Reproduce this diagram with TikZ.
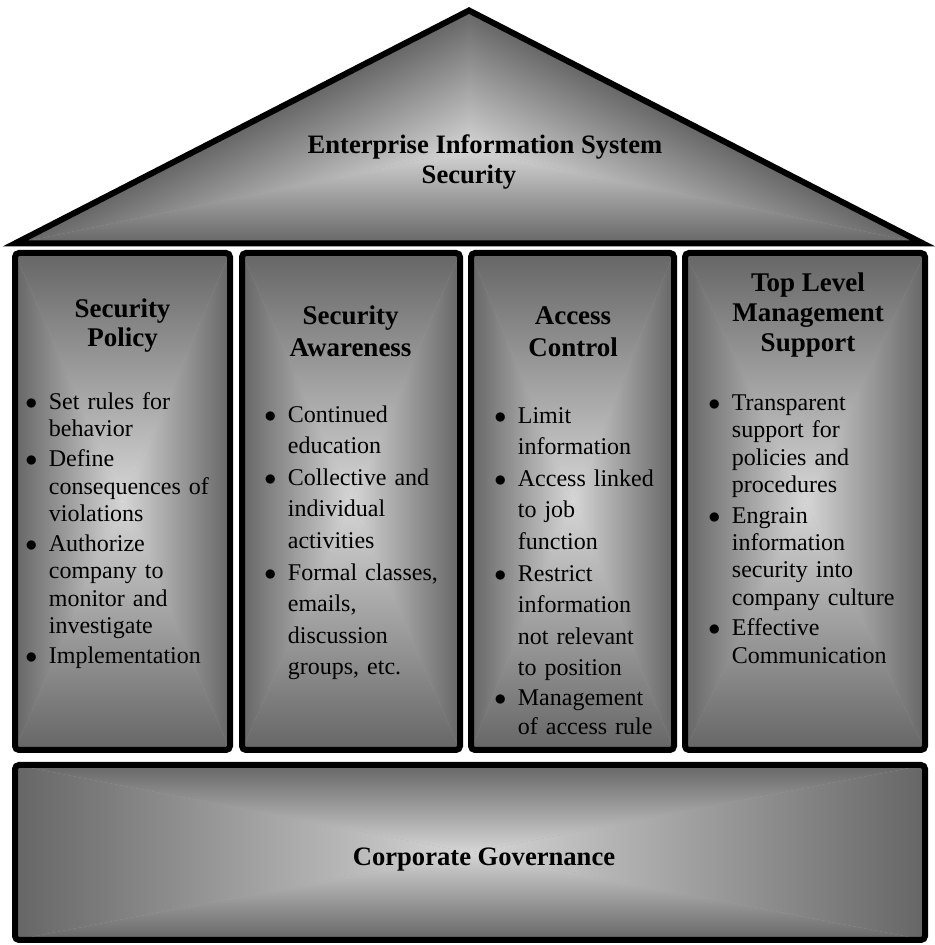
\documentclass[tikz,border=0pt]{standalone}
\usepackage{fontspec}
\setmainfont{Liberation Serif}
\usepackage{enumitem}
\setlist[itemize]{label=$\bullet$, leftmargin=11.75pt, labelwidth=11.75pt, labelsep=0pt, align=left, topsep=0pt, partopsep=0pt, parsep=0pt, itemsep=0pt}

\definecolor{borde}{gray}{0.4}
\definecolor{centro}{gray}{0.84}
\definecolor{fondo}{gray}{0.66}

\tikzset{
  pilar/.style={line width=3pt, rounded corners=2pt},
  titulo/.style={font=\bfseries\fontsize{13.5}{15}\selectfont, align=center, anchor=base, inner sep=0pt},
  lista/.style={font=\fontsize{12}{13.7}\selectfont, text width=110pt, align=left, anchor=base west, inner sep=0pt}
}

% degradado rectangular hacia el centro
\newcommand{\degradado}[4]{%
  \coordinate (m) at ({(#1+#3)/2},{(#2+#4)/2});
  \fill[fondo] (#1,#2) rectangle (#3,#4);
  \shade[bottom color=borde, top color=centro] (#1,#2) -- (#3,#2) -- (m) -- cycle;
  \shade[top color=borde, bottom color=centro] (#1,#4) -- (#3,#4) -- (m) -- cycle;
  \shade[left color=borde, right color=centro] (#1,#2) -- (#1,#4) -- (m) -- cycle;
  \shade[right color=borde, left color=centro] (#3,#2) -- (#3,#4) -- (m) -- cycle;
}

\begin{document}
\begin{tikzpicture}[x=0.5pt, y=0.5pt]
\useasboundingbox (0,0) rectangle (934,945);
% Techo
\coordinate (izq) at (15,701.5);
\coordinate (der) at (923,701.5);
\coordinate (cumbre) at (469,934.5);
\coordinate (luz) at (469,795);
\fill[fondo] (izq) -- (cumbre) -- (der) -- cycle;
\shade[bottom color=borde, top color=centro] (izq) -- (der) -- (luz) -- cycle;
\begin{scope}
  \clip (izq) -- (cumbre) -- (luz) -- cycle;
  \begin{scope}[transform canvas={shift={(izq)}, rotate=27.17}]
    \shade[top color=borde, bottom color=centro] (0,0) rectangle (510.3,-124.1);
  \end{scope}
\end{scope}
\begin{scope}
  \clip (der) -- (cumbre) -- (luz) -- cycle;
  \begin{scope}[transform canvas={shift={(der)}, rotate=152.83}]
    \shade[bottom color=borde, top color=centro] (0,0) rectangle (510.3,124.1);
  \end{scope}
\end{scope}
\draw[line width=3pt] (izq) -- (cumbre) -- (der) -- cycle;
% Columnas
\foreach \xa/\xb in {15/230, 242/460, 471/674, 685/925} {
  \degradado{\xa}{195}{\xb}{692}
  \draw[pilar] (\xa,195) rectangle (\xb,692);
}
% Base
\degradado{15}{5}{925}{180}
\draw[pilar] (15,5) rectangle (925,180);
% Textos
\node[titulo, font=\bfseries\fontsize{13.3}{15}\selectfont] (techo) at (485,791) {Enterprise Information System};
\node[titulo, font=\bfseries\fontsize{13.3}{15}\selectfont] (techo2) at (469,761) {Security};
\node[titulo] (politica) at (122.5,598) {Security\\[-0.5pt]Policy};
\node[titulo] (conciencia) at (350.5,588) {Security\\[1pt]Awareness};
\node[titulo] (acceso) at (573,588) {Access\\[1pt]Control};
\node[titulo] (apoyo) at (808,593) {Top Level\\Management\\Support};
\node[titulo, font=\bfseries\fontsize{13.3}{15}\selectfont] (gobierno) at (484,79) {Corporate Governance};
% Listas
\node[lista] (politica-l) at (25,563) {\begin{itemize}[itemsep=1.3pt]
  \item Set rules for\\behavior
  \item Define\\consequences of\\violations
  \item Authorize\\company to\\monitor and\\investigate
  \item Implementation
\end{itemize}};
\node[lista, font=\fontsize{12}{15.8}\selectfont] (conciencia-l) at (264,554.5) {\begin{itemize}
  \item Continued\\education
  \item Collective and\\individual\\activities
  \item Formal classes,\\emails,\\discussion\\groups, etc.
\end{itemize}};
\node[lista, font=\fontsize{12}{15.8}\selectfont] (acceso-l) at (494,553.5) {\begin{itemize}
  \item Limit\\information
  \item Access linked\\to job\\function
  \item Restrict\\information\\not relevant\\to position
  \setlength{\itemsep}{0.5pt}
  \item \setlength{\baselineskip}{14.5pt}Management\\of access rule
\end{itemize}};
\node[lista] (apoyo-l) at (708,562) {\begin{itemize}[itemsep=1.6pt]
  \item Transparent\\support for\\policies and\\procedures
  \item Engrain\\information\\security into\\company culture
  \item Effective\\Communication
\end{itemize}};
\end{tikzpicture}
\end{document}
